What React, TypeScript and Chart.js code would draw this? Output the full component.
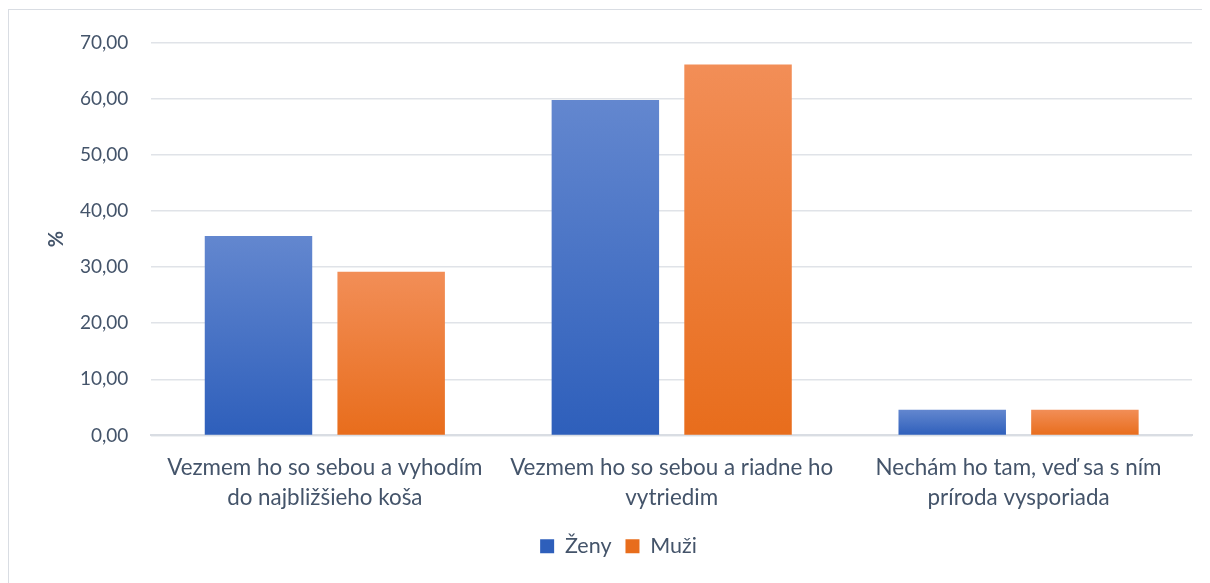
import React, { useEffect, useRef } from "react";
import { Chart, registerables } from "chart.js";

Chart.register(...registerables);

const categories: string[][] = [
  ["Vezmem ho so sebou a vyhodím", "do najbližšieho koša"],
  ["Vezmem ho so sebou a riadne ho", "vytriedim"],
  ["Nechám ho tam, veď sa s ním", "príroda vysporiada"],
];
const zenyValues = [35.53, 59.75, 4.6];
const muziValues = [29.17, 66.1, 4.6];
const seriesNames = ["Ženy", "Muži"];

const FONT = "Lato, 'Open Sans', sans-serif";
const TEXT = "#44546a";

function barGrad(ctx: any, top: string, bottom: string, solid: string) {
  const chart = ctx.chart;
  const y = chart.scales && chart.scales.y;
  if (!y || ctx.type !== "data" || !chart.chartArea) return solid;
  const yTop = y.getPixelForValue(ctx.raw);
  const yBot = y.getPixelForValue(0);
  if (!isFinite(yTop) || !isFinite(yBot) || yBot - yTop < 1) return solid;
  const g = chart.ctx.createLinearGradient(0, yTop, 0, yBot);
  g.addColorStop(0, top);
  g.addColorStop(1, bottom);
  return g;
}

export default function App() {
  const ref = useRef<HTMLCanvasElement | null>(null);
  useEffect(() => {
    if (!ref.current) return;
    const chart = new Chart(ref.current, {
      type: "bar",
      data: {
        labels: categories,
        datasets: [
          {
            label: seriesNames[0],
            data: zenyValues,
            backgroundColor: (c: any) => barGrad(c, "#6387cf", "#2e5fbb", "#4472c4"),
            borderWidth: 0,
          },
          {
            label: seriesNames[1],
            data: muziValues,
            backgroundColor: (c: any) => barGrad(c, "#f28e57", "#e86d1c", "#ed7d31"),
            borderWidth: 0,
          },
        ],
      },
      options: {
        animation: false,
        responsive: true,
        maintainAspectRatio: false,
        datasets: {
          bar: { categoryPercentage: 0.765, barPercentage: 0.81 },
        },
        layout: { padding: { left: 36, right: 18, top: 0, bottom: 16 } },
        scales: {
          x: {
            grid: { display: false },
            border: { display: true, color: "#d9dde3", width: 2 },
            ticks: {
              color: TEXT,
              font: { family: FONT, size: 22.4, lineHeight: 1.34 },
              padding: 9,
              maxRotation: 0,
            },
          },
          y: {
            min: 0,
            max: 70,
            ticks: {
              stepSize: 10,
              color: TEXT,
              font: { family: FONT, size: 19, lineHeight: 1 },
              padding: 23,
              callback: (v: any) => Number(v).toFixed(2).replace(".", ","),
            },
            grid: { color: "#e0e3e8", lineWidth: 1.5, drawTicks: false },
            border: { display: false },
            title: {
              display: true,
              text: "%",
              color: TEXT,
              font: { family: FONT, size: 20, weight: "bold" },
              padding: { top: 0, bottom: -12 },
            },
          },
        },
        plugins: {
          legend: {
            position: "bottom",
            labels: {
              color: TEXT,
              font: { family: FONT, size: 21.5 },
              boxWidth: 14,
              boxHeight: 14,
              padding: 14,
            },
          },
          tooltip: { enabled: false },
        },
      },
    });
    return () => chart.destroy();
  }, []);
  return (
    <div
      style={{
        width: 1202,
        height: 574,
        marginTop: 1,
        borderLeft: "1px solid #d9dde3",
        borderTop: "1px solid #d9dde3",
        boxSizing: "border-box",
        background: "#fff",
      }}
    >
      <canvas ref={ref} />
    </div>
  );
}
